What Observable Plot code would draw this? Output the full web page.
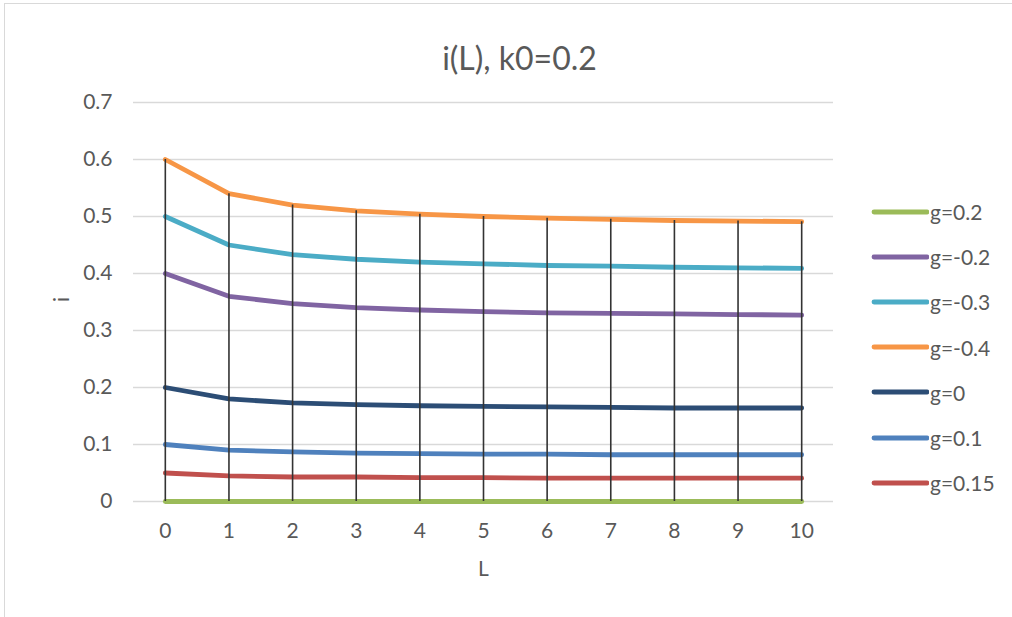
<!DOCTYPE html>
<html>
<head>
<meta charset="utf-8">
<script src="https://cdn.jsdelivr.net/npm/d3@7"></script>
<script src="https://cdn.jsdelivr.net/npm/@observablehq/plot@0.6"></script>
<style>
  html, body { margin: 0; padding: 0; background: #fff; }
  body { width: 1012px; height: 617px; overflow: hidden; position: relative; font-family: Lato, "Open Sans", sans-serif; }
  #frame { position: absolute; left: 4px; top: 3px; width: 1030px; height: 640px; border: 1px solid #d9d9d9; box-sizing: border-box; }
  #chart { position: absolute; left: 0; top: 0; }
  #legend { position: absolute; left: 871px; top: 189px; }
  .item { display: flex; align-items: center; height: 45.2px; color: #595959; font-size: 21px; }
  .item svg { margin-right: 1px; }
</style>
</head>
<body>
<div id="frame"></div>
<div id="chart"></div>
<div id="legend"></div>
<script>
const titleText = "i(L), k0=0.2";
const xLabel = "L";
const yLabel = "i";
const Lvalues = [0, 1, 2, 3, 4, 5, 6, 7, 8, 9, 10];
const yTicks = [0, 0.1, 0.2, 0.3, 0.4, 0.5, 0.6, 0.7];
const seriesNames = ["g=0.2", "g=-0.2", "g=-0.3", "g=-0.4", "g=0", "g=0.1", "g=0.15"];
const seriesColors = ["#9BBB59", "#8064A2", "#4BACC6", "#F79646", "#2C4D75", "#4F81BD", "#C0504D"];
const g_p02  = [0, 0, 0, 0, 0, 0, 0, 0, 0, 0, 0];
const g_m02  = [0.4, 0.36, 0.347, 0.34, 0.336, 0.333, 0.331, 0.33, 0.329, 0.328, 0.327];
const g_m03  = [0.5, 0.45, 0.433, 0.425, 0.42, 0.417, 0.414, 0.413, 0.411, 0.41, 0.409];
const g_m04  = [0.6, 0.54, 0.52, 0.51, 0.504, 0.5, 0.497, 0.495, 0.493, 0.492, 0.491];
const g_0    = [0.2, 0.18, 0.173, 0.17, 0.168, 0.167, 0.166, 0.165, 0.164, 0.164, 0.164];
const g_p01  = [0.1, 0.09, 0.087, 0.085, 0.084, 0.083, 0.083, 0.082, 0.082, 0.082, 0.082];
const g_p015 = [0.05, 0.045, 0.043, 0.043, 0.042, 0.042, 0.041, 0.041, 0.041, 0.041, 0.041];
const seriesValues = [g_p02, g_m02, g_m03, g_m04, g_0, g_p01, g_p015];

const rows = [];
seriesNames.forEach((name, si) => {
  Lvalues.forEach((L, i) => rows.push({series: name, L, i: seriesValues[si][i]}));
});
const hiLo = Lvalues.map((L, k) => ({
  L,
  lo: d3.min(seriesValues, s => s[k]),
  hi: d3.max(seriesValues, s => s[k])
}));

const font = "Lato, 'Open Sans', sans-serif";
const chart = Plot.plot({
  width: 1012,
  height: 617,
  marginLeft: 133,
  marginRight: 179,
  marginTop: 102,
  marginBottom: 116,
  style: {fontFamily: font, fontSize: "21px", color: "#595959", background: "transparent"},
  x: {domain: [-0.5, 10.5], ticks: Lvalues, tickSize: 0, tickPadding: 22, label: null, tickFormat: d3.format("d")},
  y: {domain: [0, 0.7], ticks: yTicks, tickSize: 0, tickPadding: 21, label: null, tickFormat: d => d === 0 ? "0" : d3.format(".1f")(d)},
  color: {domain: seriesNames, range: seriesColors},
  marks: [
    Plot.ruleY(yTicks, {stroke: "#d9d9d9", strokeWidth: 1.5}),
    Plot.line(rows, {x: "L", y: "i", z: "series", stroke: "series", strokeWidth: 4.8, strokeLinecap: "round", strokeLinejoin: "round"}),
    Plot.ruleX(hiLo, {x: "L", y1: "lo", y2: "hi", stroke: "#333", strokeWidth: 1.6}),
    Plot.text([titleText], {frameAnchor: "top", dy: -55, dx: 36, fontSize: 32, fill: "#595959"}),
    Plot.text([xLabel], {frameAnchor: "bottom", dy: 74, fontSize: 21, fill: "#595959"}),
    Plot.text([yLabel], {frameAnchor: "left", dx: -71, rotate: -90, fontSize: 21, fill: "#595959"})
  ]
});
document.getElementById("chart").appendChild(chart);

const legend = document.getElementById("legend");
seriesNames.forEach((name, i) => {
  const item = document.createElement("div");
  item.className = "item";
  item.innerHTML = `<svg width="58" height="10"><line x1="3" y1="5" x2="56" y2="5" stroke="${seriesColors[i]}" stroke-width="4.8" stroke-linecap="round"/></svg><span>${name}</span>`;
  legend.appendChild(item);
});
</script>
</body>
</html>
